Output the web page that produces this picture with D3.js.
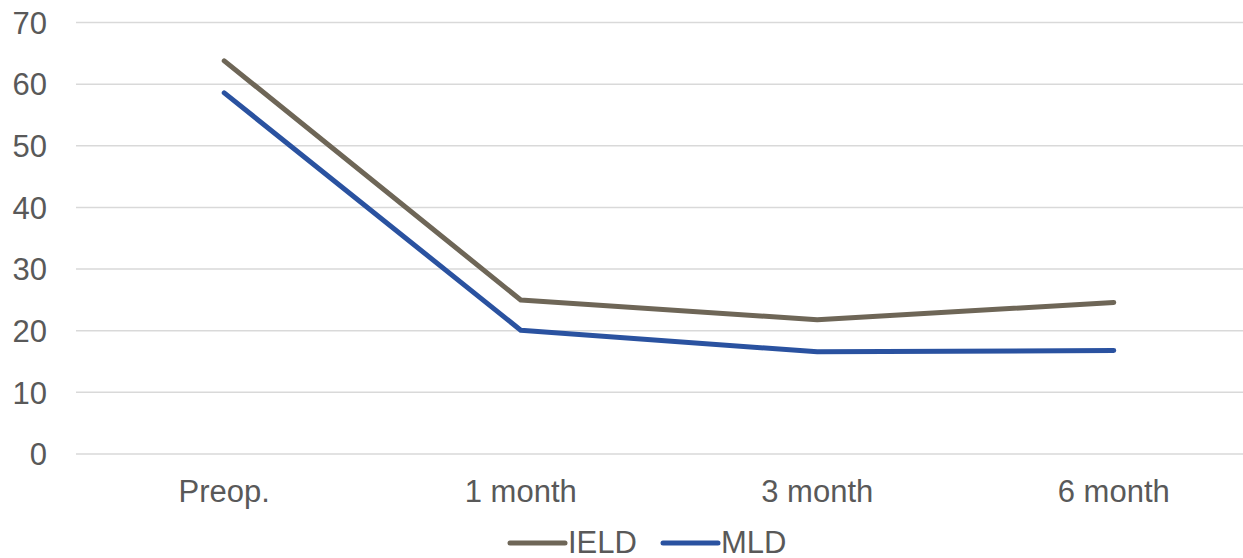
<!DOCTYPE html>
<html>
<head>
<meta charset="utf-8">
<script src="https://cdn.jsdelivr.net/npm/d3@7"></script>
<style>
  html, body { margin: 0; padding: 0; background: #fff; }
  svg { display: block; }
</style>
</head>
<body>
<svg id="chart" width="1243" height="558"></svg>
<script>
// Follow-up timepoints
const categories = ["Preop.", "1 month", "3 month", "6 month"];
// Series values at each timepoint
const ieldValues = [63.7, 24.9, 21.7, 24.5];
const mldValues = [58.5, 20.0, 16.5, 16.7];
const seriesNames = ["IELD", "MLD"];
const yTicks = [0, 10, 20, 30, 40, 50, 60, 70];

const colors = { IELD: "#6e6657", MLD: "#2a52a0" };
const series = [
  { name: seriesNames[0], values: ieldValues },
  { name: seriesNames[1], values: mldValues }
];

const svg = d3.select("#chart");
const fontFamily = "Arial, 'Liberation Sans', sans-serif";
const textColor = "#595959";

const x = d3.scaleBand().domain(categories).range([76, 1262]);
const y = d3.scaleLinear().domain([0, 70]).range([453.5, 22]);

// Horizontal gridlines
const yAxis = d3.axisLeft(y).tickValues(yTicks).tickSize(-(1262 - 76)).tickPadding(29).tickFormat(d3.format("d"));
const gy = svg.append("g").attr("transform", "translate(76,0)").call(yAxis);
gy.select(".domain").remove();
gy.selectAll(".tick line").attr("stroke", "#d9d9d9").attr("stroke-width", 1.5);
gy.selectAll(".tick text")
  .attr("fill", textColor)
  .style("font-family", fontFamily)
  .style("font-size", "31px")
  .attr("dy", "0.36em");

// Category labels
const xAxis = d3.axisBottom(x).tickSize(0).tickPadding(26);
const gx = svg.append("g").attr("transform", "translate(0,453.5)").call(xAxis);
gx.select(".domain").remove();
gx.selectAll(".tick text")
  .attr("fill", textColor)
  .style("font-family", fontFamily)
  .style("font-size", "31px");

// Lines
const line = d3.line()
  .x((d, i) => x(categories[i]) + x.bandwidth() / 2)
  .y(d => y(d));

svg.append("g").selectAll("path")
  .data(series)
  .join("path")
  .attr("d", d => line(d.values))
  .attr("fill", "none")
  .attr("stroke", d => colors[d.name])
  .attr("stroke-width", 5)
  .attr("stroke-linejoin", "round")
  .attr("stroke-linecap", "round");

// Legend
const legendItems = [
  { name: seriesNames[0], x0: 510 },
  { name: seriesNames[1], x0: 663 }
];
const lg = svg.append("g");
legendItems.forEach(item => {
  lg.append("line")
    .attr("x1", item.x0).attr("x2", item.x0 + 55)
    .attr("y1", 543).attr("y2", 543)
    .attr("stroke", colors[item.name])
    .attr("stroke-width", 5)
    .attr("stroke-linecap", "round");
  lg.append("text")
    .attr("x", item.x0 + 58)
    .attr("y", 553)
    .attr("fill", textColor)
    .style("font-family", fontFamily)
    .style("font-size", "31px")
    .text(item.name);
});
</script>
</body>
</html>
